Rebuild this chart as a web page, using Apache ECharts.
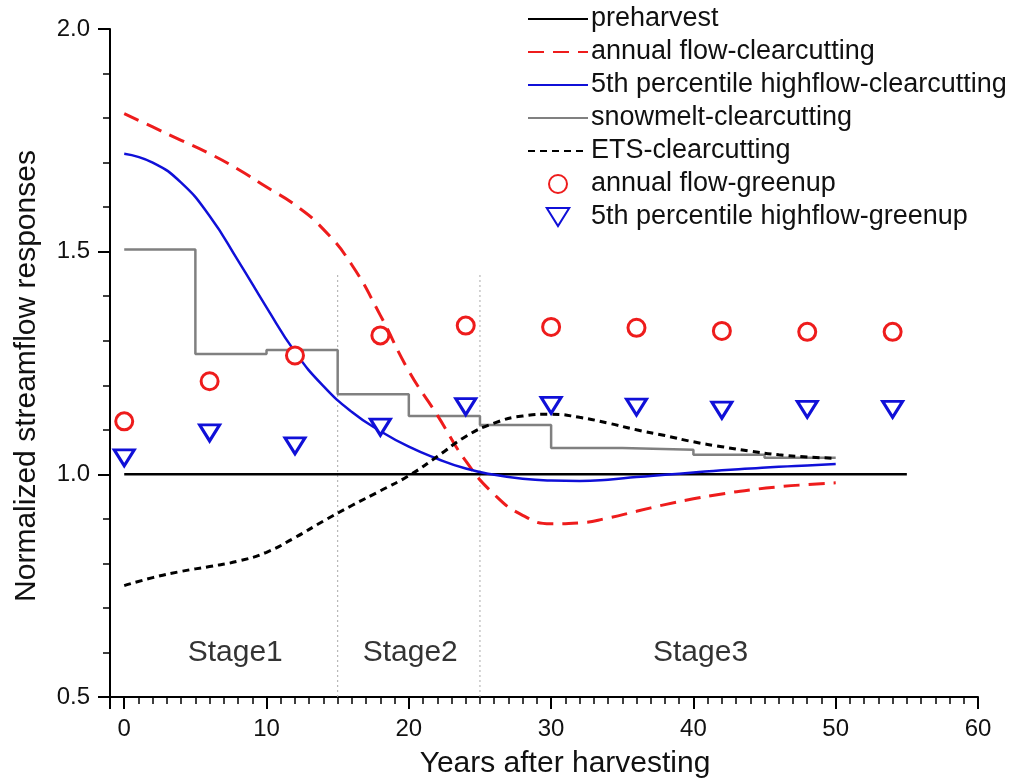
<!DOCTYPE html>
<html><head><meta charset="utf-8">
<script src="https://cdn.jsdelivr.net/npm/echarts@6/dist/echarts.min.js"></script>
<style>html,body{margin:0;padding:0;background:#fff}#c{width:1013px;height:784px}</style>
</head><body><div id="c"></div>
<script>
const curveYears = [0,2,4,6,8,10,12,14,16,18,20,22,24,26,28,30,32,34,36,38,40,42,44,46,48,50];
const annualFlowClear = [1.81,1.78,1.75,1.72,1.685,1.645,1.605,1.55,1.47,1.357,1.232,1.133,1.03,0.955,0.908,0.889,0.891,0.902,0.917,0.932,0.945,0.956,0.965,0.972,0.977,0.981];
const highflowClear = [1.72,1.70,1.655,1.58,1.48,1.375,1.275,1.198,1.14,1.097,1.062,1.035,1.013,0.999,0.99,0.986,0.985,0.988,0.994,0.999,1.004,1.009,1.013,1.017,1.020,1.023];
const etsClear = [0.75,0.768,0.782,0.793,0.805,0.825,0.858,0.895,0.93,0.963,0.997,1.04,1.085,1.115,1.131,1.135,1.128,1.115,1.10,1.087,1.073,1.062,1.052,1.044,1.039,1.036];
const snowYears = [0,5,10,15,20,25,30,35,40,45,50];
const snowmeltClear = [1.505,1.27,1.279,1.18,1.131,1.111,1.059,1.055,1.044,1.037,1.037];
const preYears = [0,55];
const preharvest = [1.0,1.0];
const greenYears = [0,6,12,18,24,30,36,42,48,54];
const annualFlowGreen = [1.119,1.209,1.267,1.312,1.334,1.331,1.329,1.322,1.320,1.320];
const highflowGreen = [1.037,1.093,1.064,1.106,1.152,1.155,1.151,1.144,1.146,1.146];
const stageBounds = [15,25];
const stageNames = ['Stage1','Stage2','Stage3'];
const stageX = [7.8,20.1,40.5];
const stageY = 0.6;
const xTickLabels = [0,10,20,30,40,50,60];
const yTickLabels = ['0.5','1.0','1.5','2.0'];

const pair = (xs, ys) => xs.map((x,i)=>[x, ys[i]]);
const FONT = 'Liberation Sans, Arial, sans-serif';
const RED = '#ee1c1c', BLUE = '#1010d8', GRAY = '#808080';
const triPath = 'path://M0,0 L20,0 L10,16 Z';

const chart = echarts.init(document.getElementById('c'), null, {renderer:'canvas'});
const series = [
  {name:'preharvest', type:'line', data: pair(preYears, preharvest), symbol:'none', lineStyle:{color:'#000', width:2.5}, itemStyle:{color:'#000'}, z:3},
  {name:'annual flow-clearcutting', type:'line', smooth:0.5, data: pair(curveYears, annualFlowClear), symbol:'none', lineStyle:{color:RED, width:3, type:[16,9]}, itemStyle:{color:RED}, z:4},
  {name:'5th percentile highflow-clearcutting', type:'line', smooth:0.5, data: pair(curveYears, highflowClear), symbol:'none', lineStyle:{color:BLUE, width:2.5}, itemStyle:{color:BLUE}, z:4},
  {name:'snowmelt-clearcutting', type:'line', step:'end', data: pair(snowYears, snowmeltClear), symbol:'none', lineStyle:{color:GRAY, width:2.5}, itemStyle:{color:GRAY}, z:3},
  {name:'ETS-clearcutting', type:'line', smooth:0.5, data: pair(curveYears, etsClear), symbol:'none', lineStyle:{color:'#000', width:3, type:[7,5]}, itemStyle:{color:'#000'}, z:4},
  {name:'annual flow-greenup', type:'scatter', data: pair(greenYears, annualFlowGreen), symbol:'circle', symbolSize:17, itemStyle:{color:'#fff', borderColor:RED, borderWidth:3, opacity:1}, z:5},
  {name:'5th percentile highflow-greenup', type:'scatter', data: pair(greenYears, highflowGreen), symbol:triPath, symbolSize:[20,16], itemStyle:{color:'#fff', borderColor:BLUE, borderWidth:3, opacity:1}, z:5},
];
stageBounds.forEach(b => series.push({name:'bound'+b, type:'line', data:[[b,0.5],[b,1.45]], symbol:'none', silent:true, lineStyle:{color:'#aaaaaa', width:1, type:[2,3]}, z:1}));
series.push({name:'stages', type:'scatter', silent:true, symbolSize:1, itemStyle:{color:'transparent'},
  data: stageNames.map((n,i)=>({value:[stageX[i], stageY], name:n})),
  label:{show:true, position:'inside', formatter: p=>p.name, color:'#000', fontSize:30, fontFamily:FONT}, z:2});

const lineNames = ['preharvest','annual flow-clearcutting','5th percentile highflow-clearcutting','snowmelt-clearcutting','ETS-clearcutting'];
const markerNames = ['annual flow-greenup','5th percentile highflow-greenup'];

chart.setOption({
  animation:false,
  backgroundColor:'#fff',
  textStyle:{fontFamily:FONT},
  grid:{left:110, right:35, top:29, bottom:84, containLabel:false},
  legend:{
    data: lineNames.map(n=>({name:n, itemStyle:{opacity:0}})).concat(markerNames.map(n=>({name:n}))),
    orient:'vertical', left:522, top:-1, itemWidth:60, itemHeight:18, itemGap:3,
    textStyle:{fontSize:27, color:'#111', fontFamily:FONT, lineHeight:30, padding:[0,0,0,-2]},
    selectedMode:false
  },
  xAxis:[{
    type:'value', min:-1, max:60, splitNumber:6,
    name:'Years after harvesting', nameLocation:'middle', nameGap:52,
    nameTextStyle:{fontSize:30, color:'#111', fontFamily:FONT, padding:[0,0,0,42]},
    axisLine:{show:true, onZero:false, lineStyle:{color:'#000', width:2}},
    axisTick:{show:true, length:12, lineStyle:{color:'#000', width:2}},
    axisLabel:{show:true, fontSize:24, color:'#111', margin:20, fontFamily:FONT,
      formatter: v => xTickLabels.includes(v) ? String(v) : ''},
    splitLine:{show:false}
  },{
    type:'value', min:-1, max:60, interval:1, position:'bottom',
    axisLine:{show:false}, axisTick:{show:true, length:7, lineStyle:{color:'#000', width:1.5}},
    axisLabel:{show:false}, splitLine:{show:false}
  }],
  yAxis:{
    type:'value', min:0.5, max:2.0, interval:0.5,
    name:'Normalized streamflow responses', nameLocation:'middle', nameGap:68,
    nameTextStyle:{fontSize:30, color:'#111', fontFamily:FONT, padding:[0,26,0,0]},
    axisLine:{show:true, onZero:false, lineStyle:{color:'#000', width:2}},
    axisTick:{show:true, length:12, lineStyle:{color:'#000', width:2}},
    minorTick:{show:true, splitNumber:5, length:7, lineStyle:{color:'#000', width:1.5}},
    axisLabel:{fontSize:24, color:'#111', margin:20, fontFamily:FONT,
      formatter: v => { const s = v.toFixed(1); return yTickLabels.includes(s) ? s : ''; }},
    splitLine:{show:false}
  },
  series: series
});
</script></body></html>
